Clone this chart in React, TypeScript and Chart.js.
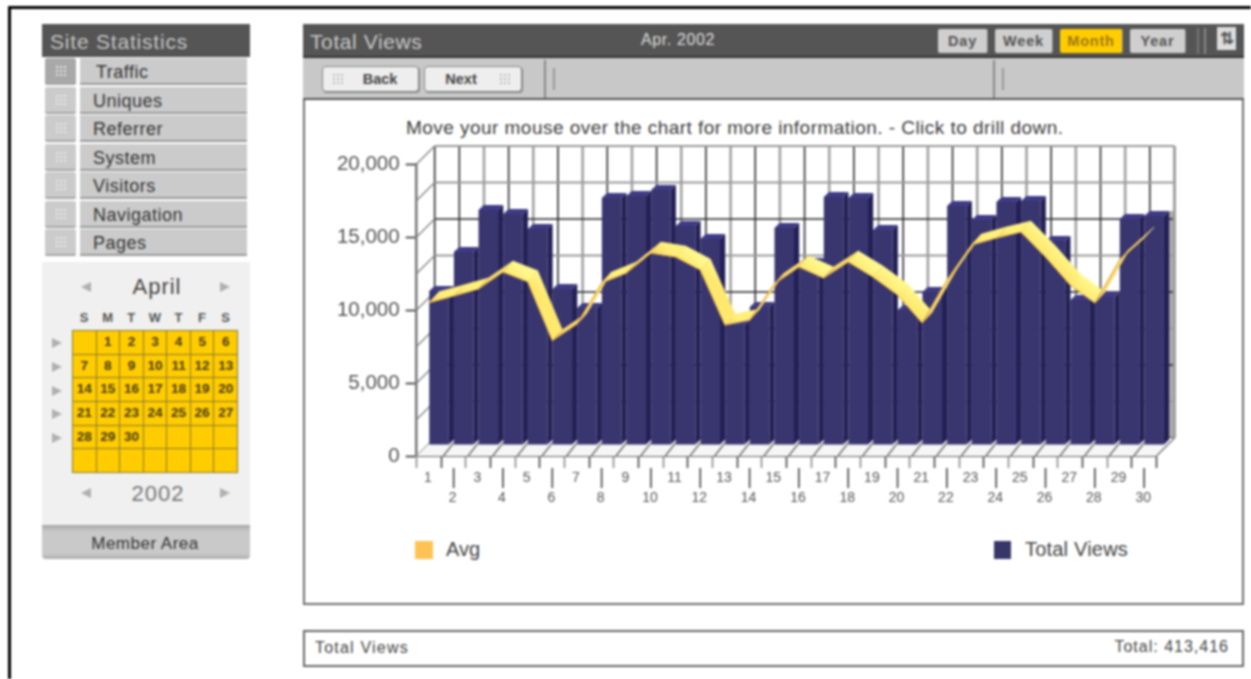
import React, { useEffect, useRef } from "react";
import { Chart, registerables } from "chart.js";

Chart.register(...registerables);

const days = ["1","2","3","4","5","6","7","8","9","10","11","12","13","14","15","16","17","18","19","20","21","22","23","24","25","26","27","28","29","30"];
const totalViews = [10550,13220,16100,15820,14790,10680,9380,16920,17050,17470,15000,14110,8220,9450,14860,12470,16990,16920,14730,9250,10480,16370,15410,16640,16710,13970,9930,10140,15480,15680];
const avgViews = [10500,10960,11440,12600,11940,7900,9040,11850,12530,13900,13630,12740,8970,9310,11780,12950,12190,13290,12260,11030,9110,12050,14450,14930,15340,13630,11710,10480,13420,14930];
const yTicks = [0, 5000, 10000, 15000, 20000];
const menuItems = ["Traffic","Uniques","Referrer","System","Visitors","Navigation","Pages"];
const weekHeads = ["S","M","T","W","T","F","S"];
const calendarCells = ["","1","2","3","4","5","6","7","8","9","10","11","12","13","14","15","16","17","18","19","20","21","22","23","24","25","26","27","28","29","30","","","","","","","","","","",""];
const rangeButtons = ["Day","Week","Month","Year"];

const FONT = '"Liberation Sans", Arial, sans-serif';
const WALL_DX = 18, WALL_DY = -18;
const BAR_DX = 10, BAR_DY = -11;
const BAR_SIDE = 5.2, BAR_TOP = 5;
const RIBBON_DX = 10, RIBBON_DY = -11;

const threeD = {
  id: "threeD",
  beforeDatasetsDraw(chart: any) {
    const { ctx, chartArea: a, scales } = chart;
    const y = scales.y;
    ctx.save();
    // back wall
    ctx.fillStyle = "#ffffff";
    ctx.fillRect(a.left + WALL_DX, a.top + WALL_DY, a.right - a.left, a.bottom - a.top);
    // shaded strip beside the last bar
    const lastTop = y.getPixelForValue(totalViews[totalViews.length - 1]) + BAR_DY - BAR_TOP;
    ctx.fillStyle = "#ababab";
    ctx.fillRect(a.right + WALL_DX - 8, lastTop, 8, y.getPixelForValue(0) + WALL_DY - lastTop);
    // vertical grid on the back wall
    const step = (a.right - a.left) / days.length;
    for (let i = 0; i < days.length; i++) {
      const px = a.left + WALL_DX + step * i;
      const dark = i % 2 === 1 || i === 0;
      ctx.strokeStyle = dark ? "#2f2f35" : "#a2a2a2";
      ctx.lineWidth = dark ? 1.6 : 2.6;
      ctx.beginPath();
      ctx.moveTo(px, a.top + WALL_DY);
      ctx.lineTo(px, a.bottom + WALL_DY);
      ctx.stroke();
    }
    // horizontal grid on the back wall, diagonals on the left wall
    for (let v = 0; v <= 20000; v += 2500) {
      const py = y.getPixelForValue(v);
      const major = v % 5000 === 0 && v !== 20000;
      ctx.strokeStyle = major ? "#26262a" : "#9a9a9a";
      ctx.lineWidth = major ? 1.6 : 2;
      ctx.beginPath();
      ctx.moveTo(a.left + WALL_DX, py + WALL_DY);
      ctx.lineTo(a.right + WALL_DX, py + WALL_DY);
      ctx.stroke();
      ctx.strokeStyle = "#8c8c8c";
      ctx.lineWidth = 1.5;
      ctx.beginPath();
      ctx.moveTo(a.left, py);
      ctx.lineTo(a.left + WALL_DX, py + WALL_DY);
      ctx.stroke();
    }
    // floor
    ctx.fillStyle = "#f6f6f6";
    ctx.beginPath();
    ctx.moveTo(a.left, a.bottom);
    ctx.lineTo(a.right, a.bottom);
    ctx.lineTo(a.right + WALL_DX, a.bottom + WALL_DY);
    ctx.lineTo(a.left + WALL_DX, a.bottom + WALL_DY);
    ctx.closePath();
    ctx.fill();
    ctx.strokeStyle = "#a0a0a0";
    ctx.lineWidth = 3;
    ctx.beginPath();
    ctx.moveTo(a.right + WALL_DX, a.top + WALL_DY);
    ctx.lineTo(a.right + WALL_DX, a.bottom + WALL_DY);
    ctx.stroke();
    ctx.strokeStyle = "#777777";
    ctx.lineWidth = 1.5;
    ctx.beginPath();
    ctx.moveTo(a.right + WALL_DX, a.bottom + WALL_DY);
    ctx.lineTo(a.right, a.bottom);
    ctx.stroke();
    ctx.restore();
  },
  beforeDatasetDraw(chart: any, args: any) {
    const { ctx } = chart;
    if (args.meta.type === "bar") {
      ctx.save();
      ctx.translate(BAR_DX, BAR_DY);
      return;
    }
    // ribbon for the Avg line: one extruded quad per segment
    const pts = args.meta.data;
    ctx.save();
    for (let i = 0; i < pts.length - 1; i++) {
      const p = pts[i], q = pts[i + 1];
      const slope = (q.y - p.y) / (q.x - p.x);
      const back = slope > 0.25 ? "#fff78c" : slope > -0.55 ? "#fff07c" : "#f6d86c";
      const front = slope > 0.25 ? "#ffe86e" : slope > -0.55 ? "#f8d266" : "#d6a442";
      const g = ctx.createLinearGradient(p.x, p.y, p.x + RIBBON_DX, p.y + RIBBON_DY);
      g.addColorStop(0, front);
      g.addColorStop(1, back);
      ctx.fillStyle = g;
      ctx.strokeStyle = g;
      ctx.lineWidth = 0.6;
      ctx.beginPath();
      ctx.moveTo(p.x, p.y);
      ctx.lineTo(q.x, q.y);
      ctx.lineTo(q.x + RIBBON_DX, q.y + RIBBON_DY);
      ctx.lineTo(p.x + RIBBON_DX, p.y + RIBBON_DY);
      ctx.closePath();
      ctx.fill();
      ctx.stroke();
    }
    ctx.restore();
  },
  afterDatasetDraw(chart: any, args: any) {
    const { ctx, chartArea: a } = chart;
    if (args.meta.type !== "bar") return;
    args.meta.data.forEach((b: any) => {
      const r = b.x + b.width / 2;
      ctx.fillStyle = "#232056";
      ctx.beginPath();
      ctx.moveTo(r, b.y);
      ctx.lineTo(r + BAR_SIDE, b.y - BAR_TOP);
      ctx.lineTo(r + BAR_SIDE, b.base - BAR_TOP);
      ctx.lineTo(r, b.base);
      ctx.closePath();
      ctx.fill();
      const l = b.x - b.width / 2;
      ctx.fillStyle = "#3f3b86";
      ctx.beginPath();
      ctx.moveTo(l, b.y);
      ctx.lineTo(l + BAR_SIDE, b.y - BAR_TOP);
      ctx.lineTo(r + BAR_SIDE, b.y - BAR_TOP);
      ctx.lineTo(r, b.y);
      ctx.closePath();
      ctx.fill();
    });
    ctx.restore();
    // floor diagonals over the foot of the bars
    ctx.save();
    ctx.strokeStyle = "#6e6e6e";
    ctx.lineWidth = 1.4;
    const step = (a.right - a.left) / days.length;
    for (let i = 1; i <= days.length; i++) {
      const px = a.left + step * i + 2;
      if (px > a.right) continue;
      ctx.beginPath();
      ctx.moveTo(px, a.bottom);
      ctx.lineTo(px + 11, a.bottom - 14);
      ctx.stroke();
    }
    ctx.restore();
  },
  afterDraw(chart: any) {
    // the even days carry a longer tick
    const { ctx, chartArea: a, scales } = chart;
    ctx.save();
    ctx.strokeStyle = "#444444";
    ctx.lineWidth = 1.6;
    days.forEach((_, i) => {
      if (i % 2 === 0) return;
      const px = scales.x.getPixelForTick(i);
      ctx.beginPath();
      ctx.moveTo(px, a.bottom + 12);
      ctx.lineTo(px, a.bottom + 32);
      ctx.stroke();
    });
    ctx.restore();
  },
};

const abs = (left: number, top: number, width: number, height: number, extra: any = {}): any => ({
  position: "absolute", left, top, width, height, boxSizing: "border-box", ...extra,
});

function Tri({ x, y, dir }: { x: number; y: number; dir: "l" | "r" }) {
  const border = dir === "l"
    ? { borderRight: "10px solid #b0b0b0" }
    : { borderLeft: "10px solid #b0b0b0" };
  return <div style={{ position: "absolute", left: x, top: y, width: 0, height: 0, borderTop: "5px solid transparent", borderBottom: "5px solid transparent", ...border }} />;
}

function Dots({ x, y, color = "#e8e8e8" }: { x: number; y: number; color?: string }) {
  return <div style={{ position: "absolute", left: x, top: y, width: 12, height: 12, backgroundImage: `radial-gradient(${color} 1px, transparent 1.2px)`, backgroundSize: "4px 4px" }} />;
}

function Txt({ x, y, size, color, children, w, align, bold, spacing }: any) {
  const width = w ?? 300;
  const style: any = {
    position: "absolute", top: y - 15, height: 30, lineHeight: "30px", left: align === "center" ? x - width / 2 : align === "right" ? x - width : x,
    width, textAlign: align ?? "left", fontSize: size, color, fontFamily: FONT, fontWeight: bold ? 700 : 400,
    letterSpacing: spacing ?? 0, whiteSpace: "nowrap",
  };
  return <div style={style}>{children}</div>;
}

export default function App() {
  const ref = useRef<HTMLCanvasElement>(null);
  useEffect(() => {
    const chart = new Chart(ref.current!, {
      type: "bar",
      data: {
        labels: days.map((d, i) => (i % 2 === 0 ? [d] : ["", d])) as any,
        datasets: [
          { type: "line", label: "Avg", data: avgViews, borderColor: "#dca63e", borderWidth: 1, pointRadius: 0, tension: 0, order: 0, fill: false } as any,
          { type: "bar", label: "Total Views", data: totalViews, backgroundColor: "#39356f", borderWidth: 0, barPercentage: 0.79, categoryPercentage: 1, order: 1 } as any,
        ],
      },
      options: {
        animation: false,
        responsive: false,
        devicePixelRatio: 1,
        events: [],
        layout: { autoPadding: false, padding: { left: 0, top: 164, right: 94.5, bottom: 163 } },
        plugins: { legend: { display: false }, tooltip: { enabled: false }, title: { display: false } },
        scales: {
          x: {
            type: "category",
            afterFit: (s: any) => { s.height = 60; },
            grid: { drawOnChartArea: false, drawTicks: true, tickLength: 12, tickColor: (c: any) => (c.index % 2 === 0 ? "#8a8a8a" : "#444444"), tickWidth: 1.6 },
            border: { display: true, color: "#666666", width: 2 },
            ticks: { autoSkip: false, maxRotation: 0, minRotation: 0, padding: 0, labelOffset: -1, color: "#555555", font: { family: FONT, size: 14, lineHeight: "20px" } },
          },
          y: {
            min: 0,
            max: 20000,
            afterFit: (s: any) => { s.width = 416.67; },
            afterBuildTicks: (s: any) => { s.ticks = yTicks.map((value) => ({ value })); },
            grid: { drawOnChartArea: false, drawTicks: true, tickLength: 11, tickColor: "#444444", tickWidth: 1.8 },
            border: { display: true, color: "#777777", width: 2.5 },
            ticks: { padding: 6, color: "#555555", font: { family: FONT, size: 20.5 }, callback: (v: any) => Number(v).toLocaleString("en-US") },
          },
        },
      },
      plugins: [threeD],
    } as any);
    return () => chart.destroy();
  }, []);

  return (
    <div style={{ position: "absolute", left: 0, top: 0, width: 1251, height: 679, background: "#fff", overflow: "hidden", filter: "blur(0.9px)" }}>
      {/* page frame */}
      <div style={abs(8, 6, 1243, 3, { background: "#000" })} />
      <div style={abs(8, 6, 3, 673, { background: "#000" })} />

      {/* sidebar */}
      <div style={abs(42, 24, 208, 33, { background: "#555555" })} />
      <Txt x={50} y={42} size={21} color="#c4c4c4" spacing={0.8}>Site Statistics</Txt>
      {menuItems.map((m, i) => {
        const top = 58 + i * 28.5;
        return (
          <React.Fragment key={m}>
            <div style={abs(45, top, 31, 27, { background: i === 0 ? "#a8a8a8" : "#cbcbcb", borderBottom: "2px solid #a4a4a4", borderRadius: 2 })} />
            <Dots x={55} y={top + 7} />
            <div style={abs(80, top, 167, 27, { background: "#cbcbcb", borderBottom: "2px solid #999" })} />
            <Txt x={i === 0 ? 96 : 93} y={top + 14} size={18} color="#333" spacing={0.5}>{m}</Txt>
          </React.Fragment>
        );
      })}
      <div style={abs(42, 262, 208, 264, { background: "#f0f0f0" })} />
      <Tri x={81} y={282} dir="l" />
      <Tri x={220} y={282} dir="r" />
      <Txt x={157} y={287} size={22} color="#444" w={100} align="center" spacing={1}>April</Txt>
      {weekHeads.map((d, i) => (
        <Txt key={i} x={84 + i * 23.6} y={318} size={13} bold color="#555" w={24} align="center">{d}</Txt>
      ))}
      {[0, 1, 2, 3, 4].map((r) => <Tri key={r} x={52} y={338 + r * 23.8} dir="r" />)}
      <div style={abs(72, 330, 166, 143, { display: "grid", gridTemplateColumns: "repeat(7, 1fr)", gridTemplateRows: "repeat(6, 1fr)", background: "#8a7a30", gap: 1, padding: 1 })}>
        {calendarCells.map((c, i) => (
          <div key={i} style={{ background: "#ffcc00", color: "#4b3c14", fontFamily: FONT, fontSize: 13.5, fontWeight: 700, textAlign: "center", lineHeight: "22px", overflow: "hidden" }}>{c}</div>
        ))}
      </div>
      <Tri x={81} y={488} dir="l" />
      <Tri x={220} y={488} dir="r" />
      <Txt x={158} y={494} size={22} color="#777" w={100} align="center" spacing={1}>2002</Txt>
      <div style={abs(42, 525, 208, 34, { background: "linear-gradient(#a8a8a8, #c9c9c9 20%, #c9c9c9 85%, #aaa)", borderRadius: "0 0 4px 4px" })} />
      <Txt x={145} y={544} size={17} color="#333" w={200} align="center" spacing={0.5}>Member Area</Txt>

      {/* main panel */}
      <div style={abs(303, 24, 941, 581, { border: "2px solid #6f6f6f", borderTop: "none" })} />
      <div style={abs(303, 24, 941, 34, { background: "#555555", borderBottom: "2px solid #333" })} />
      <Txt x={310} y={42} size={21} color="#c8c8c8" spacing={0.6}>Total Views</Txt>
      <Txt x={678} y={40} size={16} color="#ddd" w={120} align="center" spacing={0.6}>Apr. 2002</Txt>
      {rangeButtons.map((b, i) => {
        const lefts = [938, 995, 1060, 1130], widths = [50, 58, 63, 56];
        const on = b === "Month";
        return (
          <div key={b} style={abs(lefts[i], 29, widths[i], 24, { background: on ? "#ffcc00" : "#cfcfcf", borderRight: "1px solid #888", borderRadius: 2, color: on ? "#a07a10" : "#555", fontFamily: FONT, fontSize: 14.5, fontWeight: 700, textAlign: "center", lineHeight: "24px", letterSpacing: 0.8 })}>{b}</div>
        );
      })}
      <div style={abs(1197, 28, 2, 26, { background: "#777" })} />
      <div style={abs(1204, 28, 2, 26, { background: "#888" })} />
      <div style={abs(1217, 27, 19, 23, { background: "#ddd", color: "#555", fontFamily: FONT, fontSize: 17, fontWeight: 700, textAlign: "center", lineHeight: "23px" })}>⇅</div>

      <div style={abs(303, 58, 941, 42, { background: "#c8c8c8", borderBottom: "2px solid #555" })} />
      <div style={abs(322, 66, 97, 26, { background: "#eee", border: "1px solid #888", borderRadius: 4, boxShadow: "1px 1px 0 #888" })} />
      <Dots x={332} y={73} color="#bbb" />
      <Txt x={380} y={79} size={14.5} bold color="#444" w={60} align="center">Back</Txt>
      <div style={abs(424, 66, 98, 26, { background: "#eee", border: "1px solid #888", borderRadius: 4, boxShadow: "1px 1px 0 #888" })} />
      <Dots x={499} y={73} color="#bbb" />
      <Txt x={461} y={79} size={14.5} bold color="#444" w={60} align="center">Next</Txt>
      <div style={abs(544, 60, 1.5, 38, { background: "#888" })} />
      <div style={abs(553, 68, 2, 22, { background: "#eee", border: "1px solid #999" })} />
      <div style={abs(993, 60, 1.5, 38, { background: "#888" })} />
      <div style={abs(1002, 68, 2, 22, { background: "#eee", border: "1px solid #999" })} />

      <Txt x={406} y={128} size={19} color="#3c3c3c" w={720} spacing={0.46}>Move your mouse over the chart for more information. - Click to drill down.</Txt>

      {/* legend */}
      <div style={abs(415, 541, 18, 18, { background: "#fdc254" })} />
      <Txt x={446} y={549} size={20} color="#444">Avg</Txt>
      <div style={abs(994, 541, 17, 18, { background: "#383569" })} />
      <Txt x={1025} y={549} size={20} color="#444" spacing={0.2}>Total Views</Txt>

      {/* footer */}
      <div style={abs(303, 630, 941, 37, { border: "2px solid #666" })} />
      <Txt x={315} y={648} size={16} color="#444" spacing={1.2}>Total Views</Txt>
      <Txt x={1229} y={647} size={16} color="#444" align="right" spacing={1}>Total: 413,416</Txt>

      <canvas ref={ref} width={1251} height={679} style={{ position: "absolute", left: 0, top: 0, width: 1251, height: 679 }} />
    </div>
  );
}
